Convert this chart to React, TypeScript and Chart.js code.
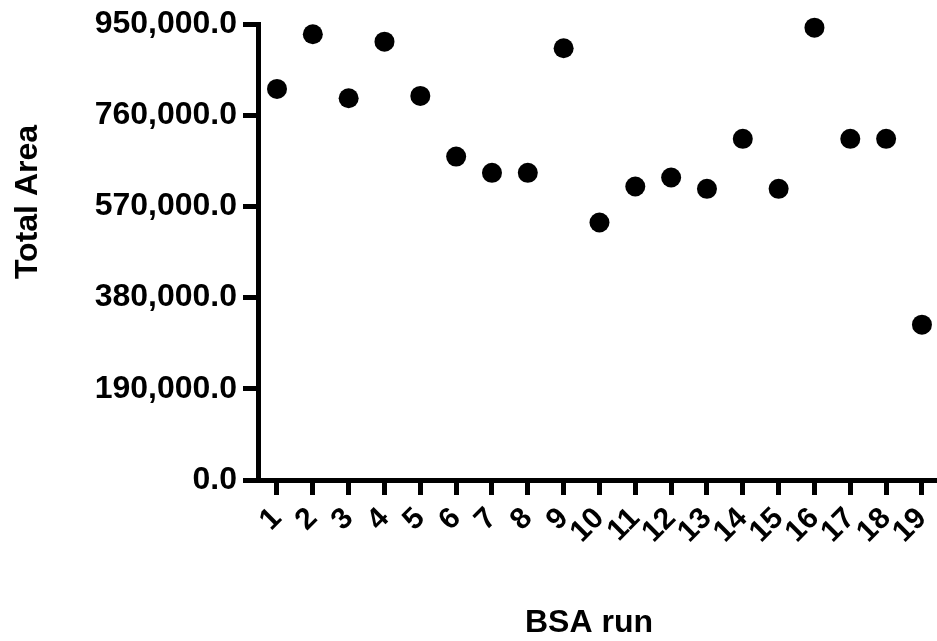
import React, { useEffect, useRef } from "react";
import { Chart, registerables } from "chart.js";

Chart.register(...registerables);

const categories = ["1","2","3","4","5","6","7","8","9","10","11","12","13","14","15","16","17","18","19"];
const totalArea = [814700, 928600, 795400, 913200, 800200, 673800, 639900, 639900, 899400, 536500, 611400, 630100, 606600, 710700, 606600, 942300, 710700, 710700, 323600];
const yTickValues = [0, 190000, 380000, 570000, 760000, 950000];
const xTitle = "BSA run";
const yTitle = "Total Area";

const FONT = "'Liberation Sans', Arial, Helvetica, sans-serif";

export default function App() {
  const ref = useRef<HTMLCanvasElement | null>(null);

  useEffect(() => {
    document.body.style.margin = "0";
    const canvas = ref.current;
    if (!canvas) return;

    const titlePlugin = {
      id: "axisTitles",
      afterDraw(chart: any) {
        const ctx = chart.ctx;
        ctx.save();
        ctx.fillStyle = "#000";
        ctx.font = `bold 32px ${FONT}`;
        ctx.textAlign = "center";
        ctx.textBaseline = "middle";
        ctx.fillText(xTitle, 589, 623);
        ctx.translate(28, 202);
        ctx.rotate(-Math.PI / 2);
        ctx.fillText(yTitle, 0, 0);
        ctx.restore();
      },
    };

    const chart = new Chart(canvas, {
      type: "scatter",
      data: {
        datasets: [
          {
            data: totalArea.map((v, i) => ({ x: i + 1, y: v })),
            backgroundColor: "#000",
            borderColor: "#000",
            borderWidth: 0,
            pointRadius: 10,
            pointHoverRadius: 10,
            showLine: false,
            clip: false,
          } as any,
        ],
      },
      plugins: [titlePlugin],
      options: {
        responsive: false,
        animation: false,
        layout: { autoPadding: false, padding: { top: 24, right: 0, bottom: 0, left: 0 } },
        plugins: { legend: { display: false }, tooltip: { enabled: false } },
        scales: {
          x: {
            type: "linear",
            min: 0.47,
            max: 19.42,
            afterBuildTicks: (s: any) => {
              s.ticks = categories.map((_, i) => ({ value: i + 1 }));
            },
            afterFit: (s: any) => {
              s.height = 161;
              s.paddingLeft = 0;
              s.paddingRight = 0;
            },
            grid: {
              drawOnChartArea: false,
              tickLength: 15,
              tickWidth: 5,
              tickColor: "#000",
            },
            border: { display: true, color: "#000", width: 5 },
            ticks: {
              autoSkip: false,
              maxRotation: 45,
              minRotation: 45,
              padding: 6,
              color: "#000",
              font: { family: FONT, size: 30, weight: "bold" },
              callback: (v: any) => categories[Number(v) - 1] ?? "",
            },
          },
          y: {
            type: "linear",
            min: 0,
            max: 950000,
            afterBuildTicks: (s: any) => {
              s.ticks = yTickValues.map((v) => ({ value: v }));
            },
            afterFit: (s: any) => {
              s.width = 258;
              s.paddingTop = 0;
              s.paddingBottom = 0;
            },
            grid: {
              drawOnChartArea: false,
              tickLength: 15,
              tickWidth: 5,
              tickColor: "#000",
            },
            border: { display: true, color: "#000", width: 5 },
            ticks: {
              padding: 6,
              color: "#000",
              font: { family: FONT, size: 32, weight: "bold" },
              callback: (v: any) =>
                Number(v).toLocaleString("en-US", { minimumFractionDigits: 1, maximumFractionDigits: 1 }),
            },
          },
        },
      },
    });
    return () => chart.destroy();
  }, []);

  return (
    <div style={{ width: 937, height: 641 }}>
      <canvas ref={ref} width={937} height={641} style={{ display: "block" }} />
    </div>
  );
}
